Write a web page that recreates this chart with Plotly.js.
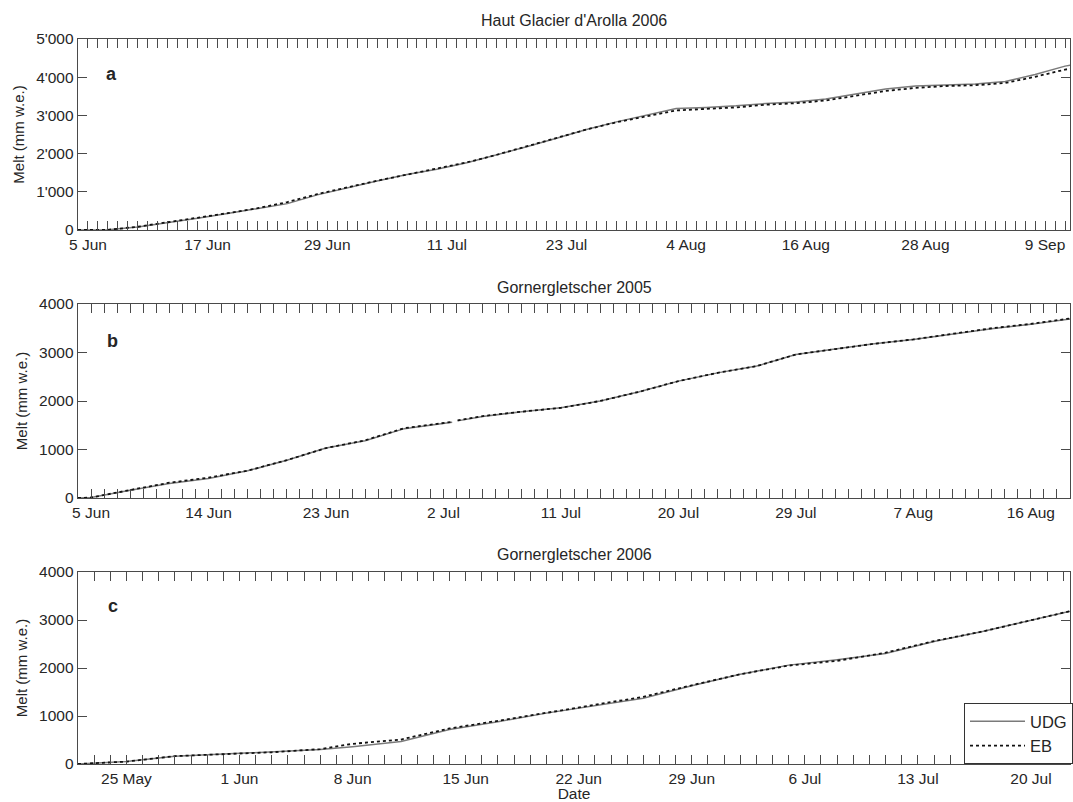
<!DOCTYPE html>
<html>
<head>
<meta charset="utf-8">
<script src="https://cdn.plot.ly/plotly-3.0.1.min.js"></script>
<style>html,body{margin:0;padding:0;background:#fff;}#chart{width:1073px;height:802px;}</style>
</head>
<body>
<div id="chart"></div>
<script>
// ---------- Data ----------
// Panel a: Haut Glacier d'Arolla 2006
var datesA = ['2006-06-04','2006-06-07','2006-06-10','2006-06-13','2006-06-16','2006-06-19','2006-06-22','2006-06-25','2006-06-28','2006-07-01','2006-07-04','2006-07-07','2006-07-10','2006-07-13','2006-07-16','2006-07-19','2006-07-22','2006-07-25','2006-07-28','2006-07-31','2006-08-03','2006-08-06','2006-08-09','2006-08-12','2006-08-15','2006-08-18','2006-08-21','2006-08-24','2006-08-27','2006-08-30','2006-09-02','2006-09-05','2006-09-08','2006-09-11','2006-09-12'];
var udgA = [0,5,80,190,310,430,560,690,920,1110,1280,1450,1590,1760,1960,2180,2400,2630,2830,3000,3180,3210,3250,3310,3350,3430,3570,3690,3770,3800,3820,3890,4070,4290,4330];
var ebA  = [0,5,85,200,320,440,570,730,940,1120,1290,1450,1600,1770,1970,2190,2410,2630,2820,2980,3130,3170,3210,3280,3320,3390,3520,3640,3720,3770,3790,3850,4010,4200,4240];

// Panel b: Gornergletscher 2005
var datesB = ['2005-06-04','2005-06-05','2005-06-08','2005-06-11','2005-06-14','2005-06-17','2005-06-20','2005-06-23','2005-06-26','2005-06-29','2005-07-02 16:00','2005-07-02 20:00','2005-07-03 02:00','2005-07-05','2005-07-08','2005-07-11','2005-07-14','2005-07-17','2005-07-20','2005-07-23','2005-07-26','2005-07-29','2005-08-01','2005-08-04','2005-08-07','2005-08-10','2005-08-13','2005-08-16','2005-08-19','2005-08-20'];
var udgB = [0,10,160,300,400,560,780,1030,1180,1430,1560,null,1590,1680,1780,1860,2000,2190,2410,2580,2720,2960,3070,3180,3270,3380,3490,3580,3690,3730];
var ebB  = [0,10,165,315,420,565,780,1030,1190,1440,1570,null,1600,1690,1780,1860,2000,2190,2410,2580,2720,2960,3070,3180,3270,3390,3500,3590,3700,3740];

// Panel c: Gornergletscher 2006
var datesC = ['2006-05-22','2006-05-25','2006-05-28','2006-05-31','2006-06-03','2006-06-06','2006-06-08','2006-06-11','2006-06-14','2006-06-17','2006-06-20','2006-06-23','2006-06-26','2006-06-29','2006-07-02','2006-07-05','2006-07-08','2006-07-11','2006-07-14','2006-07-17','2006-07-20','2006-07-23'];
var udgC = [0,50,160,210,250,300,360,470,720,880,1060,1220,1370,1630,1870,2060,2170,2300,2550,2760,3000,3230];
var ebC  = [0,50,165,205,245,310,420,510,740,900,1070,1230,1400,1640,1870,2050,2150,2320,2560,2760,3000,3230];

var panelTitles = ["Haut Glacier d'Arolla 2006", 'Gornergletscher 2005', 'Gornergletscher 2006'];
var panelLetters = ['a', 'b', 'c'];
var seriesNames = ['UDG', 'EB'];
var yTitle = 'Melt (mm w.e.)';
var xTitle = 'Date';

// ---------- Layout helpers ----------
var W = 1073, H = 802, L = 78;
function fx(px){ return (px - L) / (W - L); }
function fy(py){ return (H - py) / H; }
var FONT = '"Liberation Sans", Arial, Helvetica, sans-serif';
var TXT = '#262626';
var AX = '#4a4a4a';
var DAY = 86400000;

function xAxis(dom, range, tick0, nd){
  return {
    type: 'date', domain: [0, 1], range: range, anchor: dom,
    tick0: tick0, dtick: nd * DAY, tickformat: '%-d %b',
    ticks: 'inside', ticklen: 9, tickwidth: 1, tickcolor: AX,
    minor: {dtick: DAY, tick0: tick0, ticks: 'inside', ticklen: 9, tickwidth: 1, tickcolor: AX},
    showline: true, linecolor: AX, linewidth: 1.3, mirror: 'ticks',
    showgrid: false, zeroline: false,
    tickfont: {family: FONT, size: 15.5, color: TXT}
  };
}
function yAxis(xa, domain, maxv, sep){
  return {
    domain: domain, range: [0, maxv], dtick: 1000, anchor: xa,
    ticks: 'inside', ticklen: 9, tickwidth: 1, tickcolor: AX,
    showline: true, linecolor: AX, linewidth: 1.3, mirror: 'ticks',
    showgrid: false, zeroline: false, separatethousands: sep,
    tickfont: {family: FONT, size: 15.5, color: TXT},
    title: {text: yTitle, font: {family: FONT, size: 15, color: TXT}, standoff: 8}
  };
}

var domA = [fy(230), fy(39)], domB = [fy(498), fy(304)], domC = [fy(764), fy(572)];

var udgStyle = {color: '#7a7a7a', width: 1.5};
var ebStyle = {color: '#111111', width: 1.8, dash: 'dot'};

var traces = [
  {x: datesA, y: udgA, xaxis: 'x', yaxis: 'y', mode: 'lines', name: seriesNames[0], line: udgStyle, showlegend: false},
  {x: datesA, y: ebA, xaxis: 'x', yaxis: 'y', mode: 'lines', name: seriesNames[1], line: ebStyle, showlegend: false},
  {x: datesB, y: udgB, xaxis: 'x2', yaxis: 'y2', mode: 'lines', name: seriesNames[0], line: udgStyle, showlegend: false},
  {x: datesB, y: ebB, xaxis: 'x2', yaxis: 'y2', mode: 'lines', name: seriesNames[1], line: ebStyle, showlegend: false},
  {x: datesC, y: udgC, xaxis: 'x3', yaxis: 'y3', mode: 'lines', name: seriesNames[0], line: udgStyle, showlegend: true},
  {x: datesC, y: ebC, xaxis: 'x3', yaxis: 'y3', mode: 'lines', name: seriesNames[1], line: ebStyle, showlegend: true}
];

var xa3 = xAxis('y3', ['2006-05-22', '2006-07-22 10:00'], '2006-05-25', 7);
xa3.title = {text: xTitle, font: {family: FONT, size: 15.5, color: TXT}, standoff: 3};

function ann(text, px, py, size){
  return {text: text, xref: 'paper', yref: 'paper', x: fx(px), y: fy(py),
          xanchor: 'center', yanchor: 'middle', showarrow: false,
          font: {family: FONT, size: size, color: TXT}};
}

var layout = {
  width: W, height: H,
  margin: {l: L, r: 0, t: 0, b: 0},
  paper_bgcolor: '#fff', plot_bgcolor: '#fff',
  separators: ".'",
  font: {family: FONT, size: 15, color: TXT},
  showlegend: true,
  legend: {
    x: fx(967), y: fy(703), xanchor: 'left', yanchor: 'top',
    bgcolor: '#fff', bordercolor: '#333', borderwidth: 1,
    font: {family: FONT, size: 16.5, color: TXT},
    itemwidth: 55, tracegroupgap: 0
  },
  xaxis: xAxis('y', ['2006-06-04', '2006-09-11 12:00'], '2006-06-05', 12),
  yaxis: yAxis('x', domA, 5000, true),
  xaxis2: xAxis('y2', ['2005-06-04', '2005-08-19'], '2005-06-05', 9),
  yaxis2: yAxis('x2', domB, 4000, false),
  xaxis3: xa3,
  yaxis3: yAxis('x3', domC, 4000, false),
  annotations: [
    ann(panelTitles[0], 575.5, 21, 16),
    ann(panelTitles[1], 575.5, 288, 16),
    ann(panelTitles[2], 575.5, 555, 16),
    ann('<b>' + panelLetters[0] + '</b>', 112, 74, 18),
    ann('<b>' + panelLetters[1] + '</b>', 113, 341, 18),
    ann('<b>' + panelLetters[2] + '</b>', 113, 606, 18)
  ]
};

Plotly.newPlot('chart', traces, layout, {displayModeBar: false, staticPlot: true});
</script>
</body>
</html>
